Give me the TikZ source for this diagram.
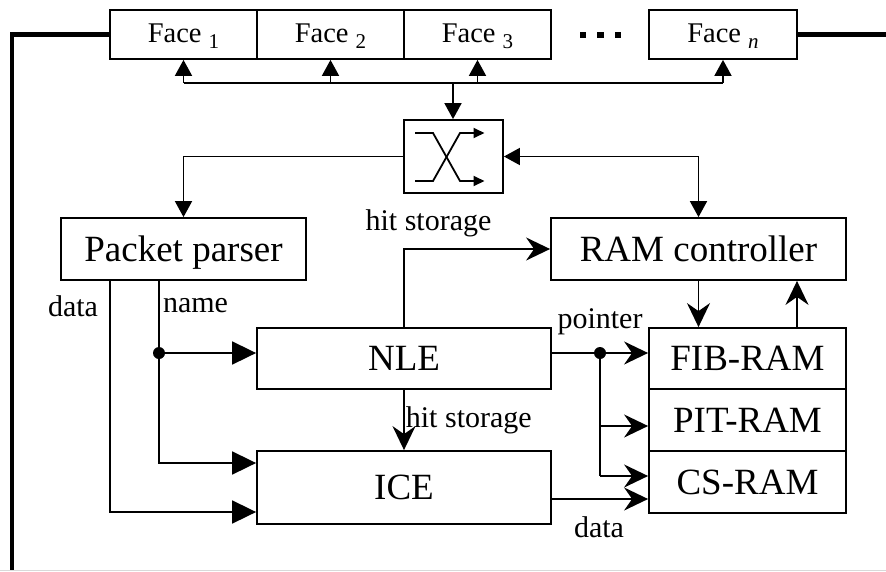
\documentclass[tikz,border=0pt]{standalone}
\usepackage{fontspec}
\setmainfont{Liberation Serif}
\usetikzlibrary{arrows.meta,calc}

\tikzset{
  base/.style={line width=1.8pt},
  blk/.style={draw, line width=1.8pt, inner sep=0pt, text height=32pt, text depth=8pt,
              font=\fontsize{37}{42}\selectfont},
  facebox/.style={draw, line width=1.8pt, inner sep=0pt, minimum width=147pt, minimum height=49pt,
                  text height=22pt, text depth=7pt, font=\fontsize{28.5}{32}\selectfont},
  lbl/.style={inner sep=0pt, font=\fontsize{30}{34}\selectfont},
  smalltri/.style={-{Triangle[length=16pt,width=17pt]}},
  bigtri/.style={-{Triangle[length=24pt,width=23pt]}},
  stl/.style={-{Stealth[length=24pt,width=23pt,inset=8pt]}},
  bus/.style={line width=4.5pt},
  junction/.style={circle, fill=black, inner sep=0pt, minimum size=12pt}
}

\newcommand{\facesub}[1]{\raisebox{-6pt}{\fontsize{21}{21}\selectfont #1}}

\begin{document}
\begin{tikzpicture}[x=1pt, y=-1pt, base]
  \useasboundingbox (0,0) rectangle (886,571);

  % interface faces
  \node[facebox] (f1) at (183.5,34.5) {Face \facesub{1}};
  \node[facebox] (f2) at (330.5,34.5) {Face \facesub{2}};
  \node[facebox] (f3) at (477.5,34.5) {Face \facesub{3}};
  \node[facebox, minimum width=148pt] (fn) at (723,34.5) {Face \facesub{\textit{n}}};
  \node[inner sep=0pt] (dots) at (600.5,34.5)
    {\rule{6.5pt}{6pt}\hspace{11pt}\rule{6.5pt}{6pt}\hspace{11pt}\rule{6.5pt}{6pt}};

  % switch
  \node[draw, line width=1.8pt, minimum width=99pt, minimum height=73pt, inner sep=0pt] (sw) at (453.5,156.5) {};
  \begin{scope}[shift={(sw.center)}]
    \draw[-{Triangle[length=11pt,width=10pt]}] (-38.5,-23.5) -- (-20.5,-23.5) -- (6.5,24.5) -- (31,24.5);
    \draw[-{Triangle[length=11pt,width=10pt]}] (-38.5,24.5) -- (-20.5,24.5) -- (6.5,-23.5) -- (31,-23.5);
  \end{scope}

  % processing blocks
  \node[blk, minimum width=245pt, minimum height=62pt] (pp) at (183.5,249) {Packet parser};
  \node[blk, minimum width=295pt, minimum height=62pt] (ramc) at (698.5,249) {RAM controller};
  \node[blk, minimum width=294pt, minimum height=61pt] (nle) at (404,358.5) {NLE};
  \node[blk, minimum width=294pt, minimum height=73pt] (ice) at (404,487.5) {ICE};
  \node[blk, minimum width=197pt, minimum height=61pt] (fib) at (747.5,358.5) {FIB-RAM};
  \node[blk, minimum width=197pt, minimum height=62pt] (pit) at (747.5,420) {PIT-RAM};
  \node[blk, minimum width=197pt, minimum height=62pt] (cs) at (747.5,482) {CS-RAM};

  % thick outer link
  \coordinate (lc) at (12,34.5);
  \coordinate (lb) at (12,571);
  \coordinate (rc) at (886,34.5);
  \draw[bus] (f1.west) -- (lc) -- (lb);
  \draw[bus] (fn.east) -- (rc);
  \draw[gray!30, line width=1pt] (0,570.5) -- (886,570.5);

  % face bus
  \coordinate (busc) at (453,83);
  \draw (f1.south |- busc) -- (fn.south |- busc);
  \draw[smalltri] (f1.south |- busc) -- (f1.south);
  \draw[smalltri] (f2.south |- busc) -- (f2.south);
  \draw[smalltri] (f3.south |- busc) -- (f3.south);
  \draw[smalltri] (fn.south |- busc) -- (fn.south);
  \draw[smalltri] (busc) -- (busc |- sw.north);

  % switch to parser and RAM controller
  \draw[smalltri] (sw.west) -- (sw.west -| pp.north) -- (pp.north);
  \draw[{Triangle[length=16pt,width=17pt]}-{Triangle[length=16pt,width=17pt]}]
    (sw.east) -- (sw.east -| ramc.north) -- (ramc.north);

  % parser outputs
  \coordinate (namedot) at (159,353);
  \coordinate (nameice) at (159,463);
  \coordinate (datac) at (110,512);
  \draw (namedot |- pp.south) -- (namedot);
  \draw[bigtri] (namedot) -- (namedot -| nle.west);
  \draw[bigtri] (namedot) -- (nameice) -- (nameice -| ice.west);
  \draw[bigtri] (datac |- pp.south) -- (datac) -- (datac -| ice.west);
  \node[junction] (nd) at (namedot) {};
  \node[lbl] (ldata) at (73,306) {data};
  \node[lbl] (lname) at (195.5,306) {name};

  % NLE to RAM controller and ICE
  \draw[stl] (nle.north) -- (nle.north |- ramc.west) -- (ramc.west);
  \node[lbl] (lhit1) at (428.5,223) {hit storage};
  \draw[stl] (nle.south) -- (ice.north);
  \node[lbl, anchor=west] (lhit2) at (405,420) {hit storage};

  % RAM controller and FIB-RAM
  \coordinate (upc) at (797,328);
  \draw[stl] (ramc.south) -- (ramc.south |- fib.north);
  \draw[stl] (upc) -- (upc |- ramc.south);

  % pointer fan-out
  \coordinate (ptrdot) at (600,353);
  \coordinate (ptrpit) at (600,426);
  \coordinate (ptrcs) at (600,476);
  \draw (nle.east |- ptrdot) -- (ptrdot);
  \draw[stl] (ptrdot) -- (ptrdot -| fib.west);
  \draw (ptrdot) -- (ptrcs);
  \draw[stl] (ptrpit) -- (ptrpit -| pit.west);
  \draw[stl] (ptrcs) -- (ptrcs -| cs.west);
  \node[junction] (pd) at (ptrdot) {};
  \node[lbl] (lptr) at (600,322) {pointer};

  % ICE data to CS-RAM
  \coordinate (icedata) at (551,499);
  \draw[stl] (ice.east |- icedata) -- (icedata -| cs.west);
  \node[lbl] (ldata2) at (599,527) {data};
\end{tikzpicture}
\end{document}
